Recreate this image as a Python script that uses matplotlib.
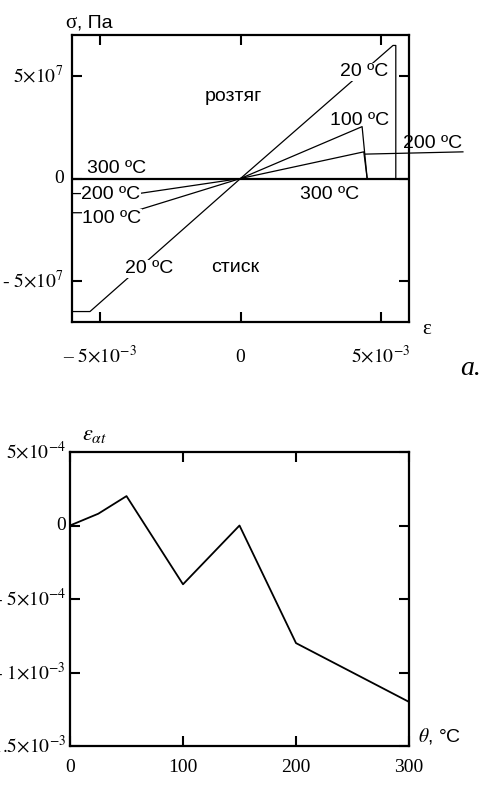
import matplotlib
matplotlib.use("Agg")
import matplotlib.pyplot as plt

plt.rcParams['mathtext.fontset'] = 'stix'
plt.rcParams['font.family'] = ['Liberation Sans', 'DejaVu Sans']

W, H = 483, 787

# (a) stress-strain curves at different temperatures
eps_20 = [-6e-3, -5.36e-3, 0.0, 5.43e-3, 5.53e-3, 5.53e-3]
sig_20 = [-6.49e7, -6.49e7, 0.0, 6.49e7, 6.49e7, 0.0]
eps_100 = [-6e-3, -3.95e-3, 0.0, 4.33e-3, 4.51e-3]
sig_100 = [-1.67e7, -1.67e7, 0.0, 2.53e7, 0.0]
eps_200 = [-6e-3, -3.63e-3, 0.0, 4.39e-3, 4.51e-3]
sig_200 = [-7.35e6, -7.35e6, 0.0, 1.30e7, 0.0]
eps_300 = [-6e-3, 6e-3]
sig_300 = [0.0, 0.0]

eps_ticks = [-5e-3, 0.0, 5e-3]
eps_labels = ['\u2013 $5{\\times}10^{-3}$', '0', '$5{\\times}10^{-3}$']
sig_ticks = [-5e7, 0.0, 5e7]
sig_labels = ['- $5{\\times}10^{7}$', '0', '$5{\\times}10^{7}$']

# (b) thermal strain vs temperature
theta = [0, 25, 50, 100, 150, 200, 250, 300]
eps_at = [0.0, 0.8e-4, 2.0e-4, -4.0e-4, 0.0, -8.0e-4, -1.0e-3, -1.2e-3]

theta_ticks = [0, 100, 200, 300]
theta_labels = ['0', '100', '200', '300']
eat_ticks = [5e-4, 0.0, -5e-4, -1e-3, -1.5e-3]
eat_labels = ['$5{\\times}10^{-4}$', '0', '- $5{\\times}10^{-4}$',
              '- $1{\\times}10^{-3}$', '- $1.5{\\times}10^{-3}$']

serif = ['Liberation Serif', 'DejaVu Serif']

fig = plt.figure(figsize=(W / 100, H / 100), dpi=100)


def box(l, t, r, b):
    return [l / W, 1 - b / H, (r - l) / W, (b - t) / H]


def style(ax):
    for s in ax.spines.values():
        s.set_linewidth(1.6)
    ax.tick_params(direction='in', top=True, right=True, length=7.5,
                   width=1.5, labelsize=14)
    for lab in ax.get_xticklabels() + ax.get_yticklabels():
        lab.set_family(serif)


# --- top panel -----------------------------------------------------------
ax1 = fig.add_axes(box(72, 35, 409, 322))
ax1.plot(eps_300, sig_300, color='black', lw=1.6)
ax1.plot(eps_20, sig_20, color='black', lw=0.9)
ax1.plot(eps_100, sig_100, color='black', lw=0.9)
ax1.plot(eps_200, sig_200, color='black', lw=0.9)
ax1.set_xlim(-6e-3, 6e-3)
ax1.set_ylim(-7e7, 7e7)
ax1.set_xticks(eps_ticks, eps_labels, va='baseline')
ax1.set_yticks(sig_ticks, sig_labels, va='center')
style(ax1)
ax1.tick_params(axis='x', pad=29)
ax1.tick_params(axis='y', pad=6)

# leader for the 200 ºC label
ax1.plot([4.45e-3, 7.92e-3], [1.19e7, 1.30e7], color='black', lw=0.9,
         clip_on=False)

white = dict(facecolor='white', edgecolor='none', pad=0.5)
labels_top = [
    ('розтяг', -0.27e-3, 3.80e7, None),
    ('20 ºC', 4.41e-3, 4.98e7, white),
    ('100 ºC', 4.24e-3, 2.61e7, None),
    ('200 ºC', 6.83e-3, 1.47e7, None),
    ('300 ºC', -4.43e-3, 2.45e6, None),
    ('200 ºC', -4.61e-3, -0.98e7, white),
    ('100 ºC', -4.58e-3, -2.18e7, white),
    ('300 ºC', 3.18e-3, -0.98e7, None),
    ('20 ºC', -3.24e-3, -4.63e7, white),
    ('стиск', -0.19e-3, -4.58e7, None),
]
for txt, x, y, bb in labels_top:
    ax1.text(x, y, txt, ha='center', va='baseline', fontsize=14,
             bbox=bb, zorder=3, clip_on=False)

fig.text(65 / W, 1 - 28 / H, 'σ', fontsize=15, family=serif, ha='left',
         va='baseline')
fig.text(77 / W, 1 - 28 / H, ', Па', fontsize=14, ha='left',
         va='baseline')
fig.text(427 / W, 1 - 329 / H, 'ε', fontsize=15, family=serif,
         ha='center', va='center')
fig.text(471 / W, 1 - 375 / H, 'a.', fontsize=20, family=serif,
         style='italic', ha='center', va='baseline')

# --- bottom panel --------------------------------------------------------
ax2 = fig.add_axes(box(70, 452, 409, 746))
ax2.plot(theta, eps_at, color='black', lw=1.3)
ax2.set_xlim(0, 300)
ax2.set_ylim(-1.5e-3, 5e-4)
ax2.set_xticks(theta_ticks, theta_labels)
ax2.set_yticks(eat_ticks, eat_labels, va='center')
style(ax2)
ax2.tick_params(axis='x', pad=9)
ax2.tick_params(axis='y', pad=3)

fig.text(82 / W, 1 - 440 / H, '$\\varepsilon_{\\alpha t}$', fontsize=16,
         ha='left', va='baseline')
fig.text(418 / W, 1 - 742 / H, '$\\theta$, °C', fontsize=14, ha='left',
         va='baseline')

fig.savefig('out.png', dpi=100)
